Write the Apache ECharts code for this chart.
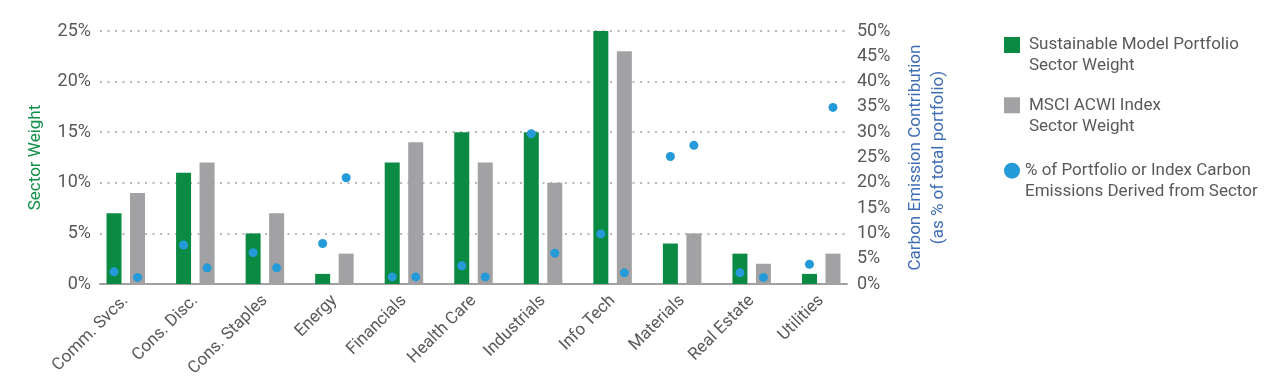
<!DOCTYPE html>
<html>
<head>
<meta charset="utf-8">
<script src="https://cdn.jsdelivr.net/npm/echarts@6/dist/echarts.min.js"></script>
<style>
  html, body { margin: 0; padding: 0; background: #ffffff; }
  #chart { width: 1273px; height: 388px; }
</style>
</head>
<body>
<div id="chart"></div>
<script>
const categories = ['Comm. Svcs.', 'Cons. Disc.', 'Cons. Staples', 'Energy', 'Financials', 'Health Care', 'Industrials', 'Info Tech', 'Materials', 'Real Estate', 'Utilities'];
const portfolioWeight = [7, 11, 5, 1, 12, 15, 15, 25, 4, 3, 1];
const indexWeight = [9, 12, 7, 3, 14, 12, 10, 23, 5, 2, 3];
const portfolioCarbon = [2.4, 7.7, 6.2, 8.0, 1.4, 3.6, 29.7, 9.9, 25.2, 2.2, 3.9];
const indexCarbon = [1.3, 3.2, 3.2, 21.0, 1.4, 1.4, 6.1, 2.2, 27.4, 1.3, 34.9];
const leftTicks = { min: 0, max: 25, interval: 5 };
const rightTicks = { min: 0, max: 50, interval: 5 };

const FONT = 'Roboto, "Liberation Sans", sans-serif';
const GREEN = '#0b8a44';
const GRAY = '#a2a2a4';
const BLUE = '#259ad8';
const TEXT = '#595959';

const NAME_P = 'Sustainable Model Portfolio Sector Weight';
const NAME_I = 'MSCI ACWI Index Sector Weight';
const NAME_C = '% of Portfolio or Index Carbon Emissions Derived from Sector';
const legendLabels = {};
legendLabels[NAME_P] = 'Sustainable Model Portfolio\nSector Weight';
legendLabels[NAME_I] = 'MSCI ACWI Index\nSector Weight';
legendLabels[NAME_C] = '% of Portfolio or Index Carbon\nEmissions Derived from Sector';

const BAR_W = 15, BAR_GAP = 8.5;
const dotShift = (BAR_W + BAR_GAP) / 2;

function legendCfg(name, top, icon, padLeft) {
  return {
    data: [name],
    orient: 'vertical',
    left: 1004,
    top: top,
    padding: 0,
    icon: icon,
    itemWidth: 16,
    itemHeight: 16,
    selectedMode: false,
    formatter: n => '\n' + legendLabels[n],
    textStyle: { fontFamily: FONT, fontSize: 17, color: TEXT, lineHeight: 21, padding: [0, 0, 0, padLeft] }
  };
}

const chart = echarts.init(document.getElementById('chart'), null, { renderer: 'canvas' });
chart.setOption({
  animation: false,
  backgroundColor: '#ffffff',
  grid: [
    { left: 91, right: 417, top: 31, bottom: 104, containLabel: false },
    { left: 100, right: 426, top: 31, bottom: 104, containLabel: false }
  ],
  legend: [
    legendCfg(NAME_P, 13.5, 'rect', 4),
    legendCfg(NAME_I, 73.8, 'rect', 4),
    legendCfg(NAME_C, 139.2, 'circle', 0)
  ],
  xAxis: [
    {
      gridIndex: 0,
      type: 'category',
      data: categories,
      axisLine: { show: false },
      axisTick: { show: false },
      axisLabel: { rotate: 45, margin: 14, fontFamily: FONT, fontSize: 17, color: TEXT, interval: 0 }
    },
    {
      gridIndex: 1,
      type: 'category',
      data: categories,
      axisLine: { show: true, lineStyle: { color: '#a0a0a0', width: 2 } },
      axisTick: { show: false },
      axisLabel: { show: false }
    }
  ],
  yAxis: [
    { gridIndex: 0, type: 'value', show: false, min: leftTicks.min, max: leftTicks.max, interval: leftTicks.interval },
    { gridIndex: 0, type: 'value', show: false, min: rightTicks.min, max: rightTicks.max, interval: rightTicks.interval },
    {
      gridIndex: 1,
      type: 'value',
      position: 'left',
      min: leftTicks.min, max: leftTicks.max, interval: leftTicks.interval,
      name: 'Sector Weight',
      nameLocation: 'middle',
      nameGap: 56,
      nameMoveOverlap: false,
      nameTextStyle: { fontFamily: FONT, fontSize: 17, color: '#13914b' },
      axisLine: { show: false },
      axisTick: { show: false },
      axisLabel: { formatter: '{value}%', fontFamily: FONT, fontSize: 18, color: TEXT, margin: 9 },
      splitLine: { show: true, lineStyle: { color: '#b8b8b8', width: 2, type: [2, 5.5] } }
    },
    {
      gridIndex: 1,
      type: 'value',
      position: 'right',
      min: rightTicks.min, max: rightTicks.max, interval: rightTicks.interval,
      name: 'Carbon Emission Contribution\n(as % of total portfolio)',
      nameLocation: 'middle',
      nameGap: 57,
      nameMoveOverlap: false,
      nameTextStyle: { fontFamily: FONT, fontSize: 17, color: '#3f6db5', lineHeight: 23, align: 'center' },
      axisLine: { show: false },
      axisTick: { show: false },
      axisLabel: { formatter: '{value}%', fontFamily: FONT, fontSize: 18, color: TEXT, margin: 10 },
      splitLine: { show: false }
    }
  ],
  series: [
    {
      name: NAME_P, type: 'bar', xAxisIndex: 0, yAxisIndex: 0, data: portfolioWeight,
      barWidth: BAR_W, barGap: (BAR_GAP / BAR_W * 100) + '%',
      itemStyle: { color: GREEN }, z: 3
    },
    {
      name: NAME_I, type: 'bar', xAxisIndex: 0, yAxisIndex: 0, data: indexWeight,
      barWidth: BAR_W,
      itemStyle: { color: GRAY }, z: 3
    },
    {
      name: NAME_C, type: 'scatter', xAxisIndex: 0, yAxisIndex: 1, data: portfolioCarbon,
      symbol: 'circle', symbolSize: 9, symbolOffset: [-dotShift, 0], z: 5,
      itemStyle: { color: BLUE, opacity: 1 }
    },
    {
      name: NAME_C, type: 'scatter', xAxisIndex: 0, yAxisIndex: 1, data: indexCarbon,
      symbol: 'circle', symbolSize: 9, symbolOffset: [dotShift, 0], z: 5,
      itemStyle: { color: BLUE, opacity: 1 }
    }
  ]
});
</script>
</body>
</html>
